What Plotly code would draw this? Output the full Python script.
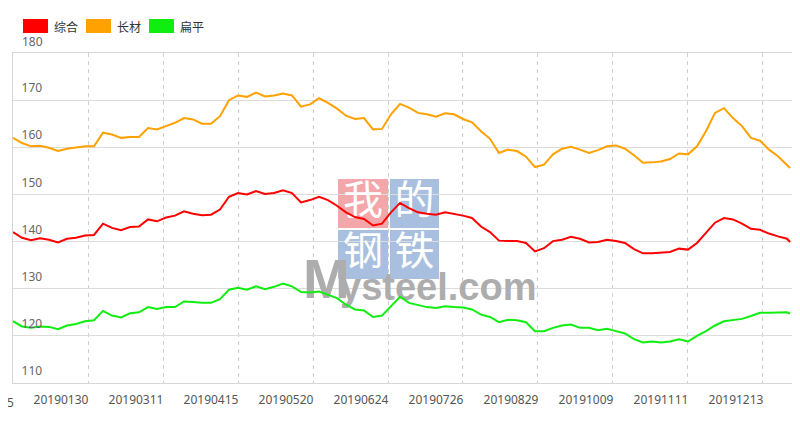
import plotly.graph_objects as go

# ---------------- data ----------------
series_names = ["综合", "长材", "扁平"]
series_colors = ["#ff0000", "#ffa100", "#10ee10"]

# category index of each sampled trading day (axis has ~260 trading days)
day_index = list(range(0, 259, 3)) + [259]

composite = [142.0,140.8,140.3,140.7,140.4,139.8,140.6,140.8,141.3,141.4,
             143.8,142.9,142.4,143.1,143.2,144.7,144.3,145.1,145.5,146.4,
             145.9,145.6,145.7,146.8,149.5,150.3,150.0,150.7,150.1,150.3,
             150.9,150.3,148.3,148.8,149.5,148.8,147.6,146.2,145.2,144.8,
             143.4,143.8,146.2,148.2,147.1,146.2,145.9,145.7,146.2,145.9,
             145.5,145.0,143.2,142.0,140.2,140.1,140.1,139.7,137.9,138.6,
             140.1,140.4,141.0,140.6,139.8,139.9,140.4,140.1,139.7,138.4,
             137.5,137.5,137.6,137.8,138.5,138.3,139.7,141.8,144.0,145.0,
             144.7,143.8,142.7,142.5,141.7,141.1,140.6,
             139.9]

long_steel = [162.0,160.9,160.2,160.3,159.9,159.2,159.7,159.9,160.2,160.2,
              163.1,162.7,162.0,162.2,162.2,164.1,163.8,164.5,165.2,166.2,
              165.9,165.0,165.0,166.6,170.0,171.0,170.7,171.6,170.8,171.0,
              171.4,171.0,168.6,169.1,170.4,169.4,168.2,166.7,166.0,166.2,
              163.8,163.9,167.0,169.2,168.4,167.3,167.0,166.5,167.2,167.0,
              166.0,165.3,163.4,161.8,158.8,159.5,159.2,158.0,155.8,156.3,
              158.5,159.7,160.1,159.5,158.8,159.4,160.2,160.4,159.7,158.3,
              156.7,156.8,157.0,157.5,158.7,158.5,160.2,163.4,167.3,168.3,
              166.2,164.5,162.0,161.4,159.5,158.1,156.3,
              155.6]

flat_steel = [123.1,122.0,121.7,122.0,121.9,121.4,122.2,122.5,123.1,123.3,
              125.3,124.3,123.9,124.8,125.0,126.1,125.7,126.1,126.1,127.3,
              127.2,127.0,127.0,127.8,129.8,130.2,129.8,130.5,129.9,130.4,
              131.1,130.5,129.3,129.2,129.4,128.7,128.0,126.6,125.6,125.4,
              124.0,124.3,126.3,128.3,127.0,126.5,126.1,125.9,126.3,126.1,
              126.0,125.6,124.5,124.0,122.9,123.4,123.3,122.9,121.0,121.0,
              121.7,122.2,122.4,121.7,121.7,121.2,121.5,121.0,120.5,119.3,
              118.6,118.8,118.6,118.8,119.3,118.8,120.0,121.0,122.2,123.1,
              123.3,123.6,124.2,124.9,124.9,124.9,125.0,
              124.7]

tick_labels = ["20190130", "20190311", "20190415", "20190520", "20190624",
               "20190726", "20190829", "20191009", "20191111", "20191213"]
tick_index = [16, 41, 66, 91, 116, 141, 166, 191, 216, 241]
cut_label = "20181225"
cut_label_index = -9
split_index = [25, 50, 75, 100, 125, 150, 175, 200, 225, 250]
y_ticks = [110, 120, 130, 140, 150, 160, 170, 180]

# ---------------- geometry ----------------
# the page body has an 8px margin, so the figure starts at page (8, 8)
OFF = 8
PLOT_L, PLOT_R, PLOT_T, PLOT_B = 13, 792, 53, 383      # page pixels
W, H = 786, 411
ML, MT = PLOT_L - OFF, PLOT_T - OFF
MR = W - (PLOT_R - OFF)
MB = H - (PLOT_B - OFF)
PW, PH = PLOT_R - PLOT_L, PLOT_B - PLOT_T
X_RANGE = [0, 259.67]
Y_RANGE = [110, 180]

def px_x(px):
    return X_RANGE[0] + (px - PLOT_L) / PW * (X_RANGE[1] - X_RANGE[0])

def px_y(py):
    return Y_RANGE[1] - (py - PLOT_T) / PH * (Y_RANGE[1] - Y_RANGE[0])

def paper_x(px):
    return (px - PLOT_L) / PW

def paper_y(py):
    return (PLOT_B - py) / PH

CJK = "Noto Sans CJK SC, Noto Sans, sans-serif"
fig = go.Figure()

# ---------------- watermark (below data lines) ----------------
box_fills = ["#f4a7aa", "#a9bfe0", "#a9bfe0", "#a9bfe0"]
box_chars = ["我", "的", "钢", "铁"]
box_rects = [(338, 179, 388, 228), (390, 179, 439, 228),
             (338, 230, 388, 279), (390, 230, 439, 279)]
for (x0, y0, x1, y1), fc in zip(box_rects, box_fills):
    fig.add_shape(type="rect", xref="paper", yref="paper",
                  x0=paper_x(x0), x1=paper_x(x1), y0=paper_y(y1), y1=paper_y(y0),
                  fillcolor=fc, line_width=0, layer="between")
fig.add_trace(go.Scatter(
    x=[px_x((r[0] + r[2]) / 2) for r in box_rects],
    y=[px_y((r[1] + r[3]) / 2) for r in box_rects],
    text=box_chars, mode="text", textposition="middle center",
    textfont=dict(size=40, color="white", family=CJK),
    hoverinfo="skip", showlegend=False))
fig.add_trace(go.Scatter(
    x=[px_x(303), px_x(340)], y=[px_y(284), px_y(290)],
    text=["<b>M</b>", "<b>ysteel.com</b>"], mode="text",
    textposition="middle right",
    textfont=dict(size=[56, 38], color="#adadad",
                  family="Liberation Sans Narrow, Liberation Sans, Arial"),
    hoverinfo="skip", showlegend=False))

# ---------------- data lines ----------------
for name, color, vals in zip([series_names[1], series_names[0], series_names[2]],
                             [series_colors[1], series_colors[0], series_colors[2]],
                             [long_steel, composite, flat_steel]):
    fig.add_trace(go.Scatter(x=day_index, y=vals, mode="lines", name=name,
                             line=dict(color=color, width=2),
                             showlegend=False))

# ---------------- custom legend ----------------
legend_x = [23, 86, 149]
for lx, name, color in zip(legend_x, series_names, series_colors):
    fig.add_shape(type="rect", xref="paper", yref="paper",
                  x0=paper_x(lx), x1=paper_x(lx + 25),
                  y0=paper_y(33), y1=paper_y(19),
                  fillcolor=color, line_width=0)
    fig.add_annotation(xref="paper", yref="paper", x=paper_x(lx + 29), y=paper_y(26),
                       text=name, showarrow=False, xanchor="left", yanchor="middle",
                       font=dict(size=12, color="#333333", family=CJK))

# partially visible first label at the left edge
fig.add_annotation(xref="paper", yref="paper",
                   x=paper_x(PLOT_L + cut_label_index * PW / (X_RANGE[1] - X_RANGE[0])),
                   y=paper_y(402), text=cut_label, showarrow=False,
                   xanchor="center", yanchor="middle",
                   font=dict(size=12, color="#555555", family="Noto Sans, sans-serif"))

# top y label sits above the plot frame (plotly hides it as an inside tick label)
fig.add_annotation(xref="paper", yref="y", x=paper_x(20), y=y_ticks[-1],
                   yshift=12, text=str(y_ticks[-1]), showarrow=False,
                   xanchor="left", yanchor="middle",
                   font=dict(size=12, color="#666666", family="Noto Sans, sans-serif"))

fig.update_layout(
    width=W, height=H, autosize=False,
    margin=dict(l=ML, r=MR, t=MT, b=MB),
    paper_bgcolor="white", plot_bgcolor="white",
    font=dict(family="Noto Sans, sans-serif", size=12, color="#555555"),
    xaxis=dict(range=X_RANGE, tickmode="array", tickvals=tick_index,
               ticktext=tick_labels, showgrid=False, zeroline=False,
               ticks="", ticklabelstandoff=6,
               showline=True, linecolor="#d6d6d6", linewidth=1, mirror=True,
               minor=dict(tickmode="array", tickvals=split_index, showgrid=True,
                          gridcolor="#cfcfcf", griddash="4px,4px", gridwidth=1,
                          ticks=""),
               tickfont=dict(size=12, color="#555555")),
    yaxis=dict(range=Y_RANGE, tickmode="array", tickvals=y_ticks,
               showgrid=True, gridcolor="#dcdcdc", gridwidth=1, zeroline=False,
               ticks="", ticklabelposition="inside", ticklabelstandoff=8,
               ticklabelshift=-12,
               showline=True, linecolor="#d6d6d6", linewidth=1, mirror=True,
               tickfont=dict(size=12, color="#666666")),
)

fig.write_html("out.html")
